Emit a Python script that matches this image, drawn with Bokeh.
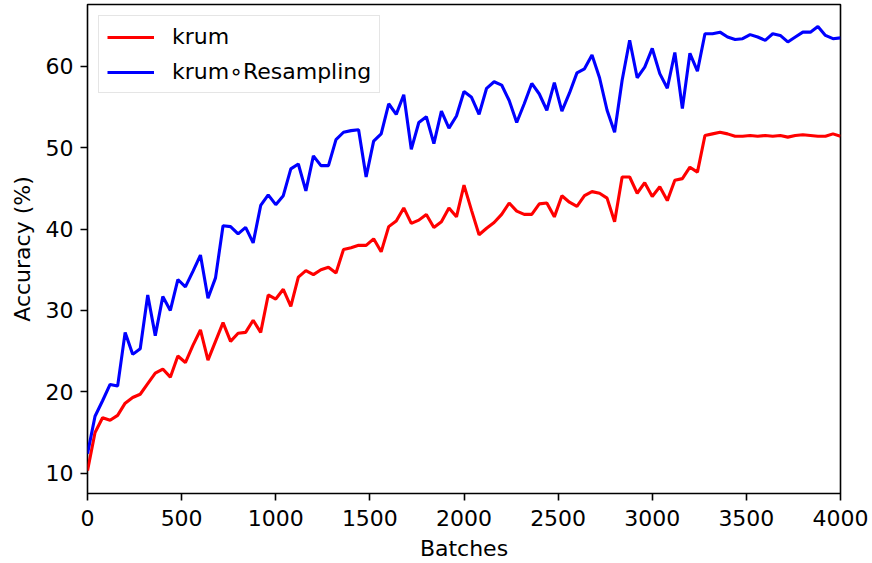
from bokeh.plotting import figure
from bokeh.models import Range1d, Legend, LegendItem, FixedTicker, ColumnDataSource
from bokeh.embed import file_html
from bokeh.resources import INLINE

batches = list(range(0, 4001, 40))

krum = [10.3, 15.0, 16.8, 16.5, 17.1, 18.6, 19.3, 19.7, 21.0, 22.3,
        22.8, 21.8, 24.4, 23.6, 25.7, 27.6, 23.9, 26.2, 28.5, 26.2,
        27.2, 27.3, 28.8, 27.3, 31.9, 31.4, 32.6, 30.5, 34.1, 34.9,
        34.4, 35.0, 35.3, 34.6, 37.5, 37.7, 38.0, 38.0, 38.8, 37.2,
        40.3, 41.0, 42.6, 40.7, 41.1, 41.8, 40.2, 40.9, 42.6, 41.5,
        45.4, 42.3, 39.3, 40.1, 40.8, 41.8, 43.2, 42.2, 41.8, 41.8,
        43.1, 43.2, 41.5, 44.1, 43.3, 42.8, 44.1, 44.6, 44.4, 43.8,
        40.9, 46.4, 46.4, 44.4, 45.7, 44.0, 45.2, 43.5, 46.0, 46.2,
        47.6, 47.0, 51.5, 51.7, 51.9, 51.7, 51.4, 51.4, 51.5, 51.4,
        51.5, 51.4, 51.5, 51.3, 51.5, 51.6, 51.5, 51.4, 51.4, 51.7,
        51.4]

krum_resampling = [12.4, 17.0, 18.9, 20.9, 20.7, 27.3, 24.6, 25.3, 31.9, 26.9,
                   31.7, 30.0, 33.8, 32.9, 34.8, 36.8, 31.5, 34.0, 40.4, 40.3,
                   39.4, 40.2, 38.3, 42.9, 44.2, 43.0, 44.1, 47.4, 48.0, 44.7,
                   49.0, 47.8, 47.8, 51.0, 51.9, 52.1, 52.2, 46.4, 50.8, 51.7,
                   55.4, 54.1, 56.5, 49.8, 53.1, 53.8, 50.5, 54.5, 52.4, 53.9,
                   56.9, 56.2, 54.1, 57.3, 58.1, 57.7, 55.8, 53.1, 55.4, 57.9,
                   56.6, 54.6, 58.0, 54.5, 56.7, 59.2, 59.7, 61.4, 58.6, 54.6,
                   51.9, 58.3, 63.2, 58.6, 59.9, 62.2, 59.1, 57.3, 61.7, 54.8,
                   61.6, 59.4, 64.0, 64.0, 64.2, 63.6, 63.3, 63.4, 63.9, 63.6,
                   63.2, 64.0, 63.8, 63.0, 63.6, 64.2, 64.2, 64.9, 63.8, 63.4,
                   63.5]

x_ticks = [0, 500, 1000, 1500, 2000, 2500, 3000, 3500, 4000]
y_ticks = [10, 20, 30, 40, 50, 60]
series_names = ["krum", "krum\u2218Resampling"]

FONT = "DejaVu Sans"
FS = "22px"

src = ColumnDataSource(dict(batches=batches, krum=krum, krs=krum_resampling))

p = figure(width=872, height=563, output_backend="svg", toolbar_location=None,
           x_range=Range1d(0, 4000), y_range=Range1d(7.5, 67.6),
           min_border_left=87, min_border_right=32, min_border_top=4,
           min_border_bottom=70)

r1 = p.line("batches", "krum", source=src, line_color="#ff0000", line_width=3.1)
r2 = p.line("batches", "krs", source=src, line_color="#0000ff", line_width=3.1)

p.xgrid.visible = False
p.ygrid.visible = False
p.outline_line_color = "black"
p.outline_line_width = 1.6
p.outline_line_alpha = 1.0
p.background_fill_color = "white"
p.border_fill_color = "white"

p.xaxis.ticker = FixedTicker(ticks=x_ticks)
p.yaxis.ticker = FixedTicker(ticks=y_ticks)
for ax in (p.xaxis[0], p.yaxis[0]):
    ax.axis_line_color = None
    ax.major_tick_line_color = "black"
    ax.major_tick_line_width = 1.6
    ax.major_tick_out = 7
    ax.major_tick_in = 0
    ax.minor_tick_line_color = None
    ax.major_label_text_font = FONT
    ax.major_label_text_font_size = FS
    ax.major_label_text_color = "black"
    ax.axis_label_text_font = FONT
    ax.axis_label_text_font_size = FS
    ax.axis_label_text_font_style = "normal"
    ax.axis_label_text_color = "black"

p.xaxis.axis_label = "Batches"
p.yaxis.axis_label = "Accuracy (%)"
p.xaxis.major_label_standoff = 9
p.xaxis.axis_label_standoff = 7
p.yaxis.major_label_standoff = 7
p.yaxis.axis_label_standoff = 8

legend = Legend(items=[LegendItem(label=series_names[0], renderers=[r1]),
                       LegendItem(label=series_names[1], renderers=[r2])],
                location="top_left")
legend.margin = 11
legend.padding = 8
legend.spacing = 10
legend.glyph_width = 47
legend.glyph_height = 22
legend.label_height = 22
legend.label_standoff = 18
legend.label_text_font = FONT
legend.label_text_font_size = FS
legend.label_text_color = "black"
legend.border_line_color = "#cccccc"
legend.border_line_width = 1.6
legend.background_fill_color = "white"
legend.background_fill_alpha = 0.8
p.add_layout(legend, "center")

open("out.html", "w").write(file_html(p, INLINE))
